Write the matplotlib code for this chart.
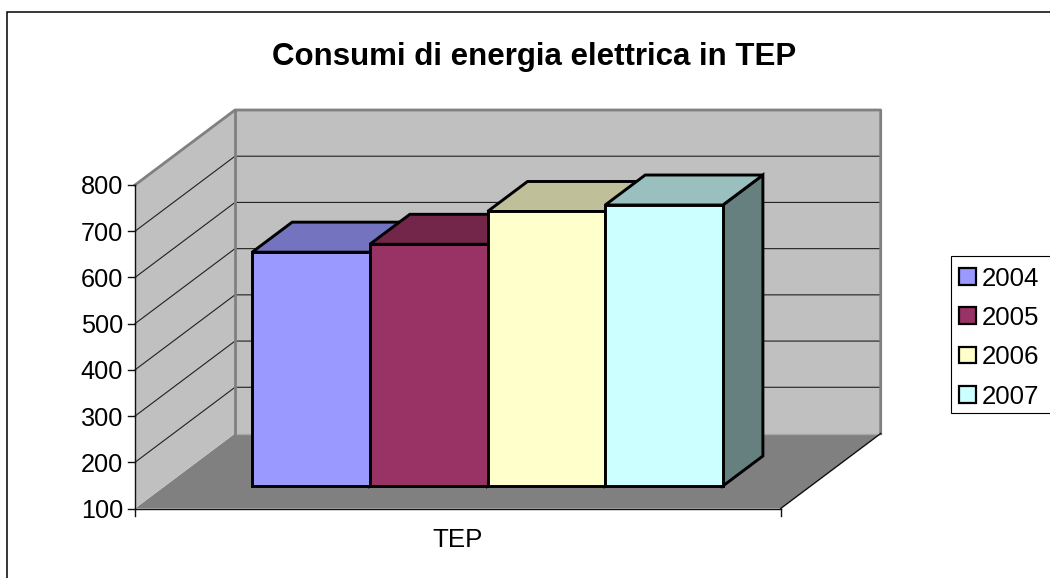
import matplotlib
matplotlib.use("Agg")
import matplotlib.pyplot as plt
from matplotlib.patches import Polygon, Rectangle

plt.rcParams['font.family'] = ['Liberation Sans', 'DejaVu Sans']

title = "Consumi di energia elettrica in TEP"
category = "TEP"
years = ["2004", "2005", "2006", "2007"]
values = [606, 623, 694, 708]
colors = ["#9999FF", "#993366", "#FFFFCC", "#CCFFFF"]
top_colors = ["#7373BF", "#732649", "#BFBF99", "#99BFBF"]
side_colors = ["#4D4D80", "#4D1A33", "#808066", "#668080"]
y_ticks = [100, 200, 300, 400, 500, 600, 700, 800]

# Oblique projection of the 3D chart box onto pixel space
X0, Y0 = 135.0, 508.5        # front-left corner of floor, value 100
BOX_W = 645.7                # floor width
PX_PER_UNIT = (508.5 - 185.0) / 700.0
DEPTH_X, DEPTH_Y = 100.0, -75.0
GAP = 0.1355                 # side gap fraction of the floor width
BAR_D0, BAR_D1 = 0.3, 0.7    # bar depth span


def proj(u, v, d):
    """u: 0..1 along the category axis, v: value, d: 0..1 depth."""
    return (X0 + u * BOX_W + d * DEPTH_X,
            Y0 - (v - y_ticks[0]) * PX_PER_UNIT + d * DEPTH_Y)


fig = plt.figure(figsize=(10.5, 5.78), dpi=100, facecolor="white")
ax = fig.add_axes([0, 0, 1, 1])
ax.set_xlim(0, 1050)
ax.set_ylim(578, 0)
ax.axis("off")

# outer frame (runs past the right and bottom edges of the picture)
ax.add_patch(Rectangle((7, 12), 1100, 620, fc="white", ec="black", lw=1.1, zorder=0))

vmin, vmax = y_ticks[0], y_ticks[-1]
# floor
ax.add_patch(Polygon([proj(0, vmin, 0), proj(1, vmin, 0), proj(1, vmin, 1), proj(0, vmin, 1)],
                     closed=True, fc="#808080", ec="none", zorder=1))
# side and back walls
ax.add_patch(Polygon([proj(0, vmin, 0), proj(0, vmin, 1), proj(0, vmax, 1), proj(0, vmax, 0)],
                     closed=True, fc="#C0C0C0", ec="none", zorder=1))
ax.add_patch(Polygon([proj(0, vmin, 1), proj(1, vmin, 1), proj(1, vmax, 1), proj(0, vmax, 1)],
                     closed=True, fc="#C0C0C0", ec="none", zorder=1))

# gridlines
for t in y_ticks[1:-1]:
    pts = [proj(0, t, 0), proj(0, t, 1), proj(1, t, 1)]
    ax.plot(*zip(*pts), color="#202020", lw=0.8, zorder=2, solid_joinstyle="miter")

# wall borders
wall_edge = dict(color="#808080", lw=2.0, zorder=3, solid_capstyle="projecting")
ax.plot(*zip(proj(0, vmin, 1), proj(0, vmax, 1)), **wall_edge)
ax.plot(*zip(proj(0, vmax, 0), proj(0, vmax, 1), proj(1, vmax, 1), proj(1, vmin, 1)), **wall_edge)
ax.plot(*zip(proj(0, vmin, 1), proj(1, vmin, 1)), color="#A8A8A8", lw=1.0, zorder=2)

# axes lines
axis_style = dict(color="#101010", lw=1.0, zorder=4)
ax.plot(*zip(proj(0, vmin, 0), proj(0, vmax, 0)), **axis_style)
ax.plot(*zip(proj(0, vmin, 0), proj(1, vmin, 0)), **axis_style)
ax.plot(*zip(proj(1, vmin, 0), proj(1, vmin, 1)), **axis_style)
for t in y_ticks:
    x, y = proj(0, t, 0)
    ax.plot([x - 7, x], [y, y], **axis_style)
    ax.text(x - 12, y, str(t), ha="right", va="center_baseline", fontsize=18.2, color="black", zorder=6)
for u in (0, 1):
    x, y = proj(u, vmin, 0)
    ax.plot([x, x], [y, y + 7], **axis_style)
x, y = proj(0.5, vmin, 0)
ax.text(x, y + 29, category, ha="center", va="center_baseline", fontsize=18.6, color="black")

# bars
bar_w = (1 - 2 * GAP) / len(values)
edge = dict(ec="black", lw=2.1, joinstyle="miter", closed=True)
for i, (val, c, tc, sc) in enumerate(zip(values, colors, top_colors, side_colors)):
    u0 = GAP + i * bar_w - 0.0005
    u1 = u0 + bar_w
    z = 10 + i
    ax.add_patch(Polygon([proj(u1, vmin, BAR_D0), proj(u1, vmin, BAR_D1),
                          proj(u1, val, BAR_D1), proj(u1, val, BAR_D0)], fc=sc, zorder=z, **edge))
    ax.add_patch(Polygon([proj(u0, val, BAR_D0), proj(u1, val, BAR_D0),
                          proj(u1, val, BAR_D1), proj(u0, val, BAR_D1)], fc=tc, zorder=z, **edge))
    ax.add_patch(Polygon([proj(u0, vmin, BAR_D0), proj(u1, vmin, BAR_D0),
                          proj(u1, val, BAR_D0), proj(u0, val, BAR_D0)], fc=c, zorder=z, **edge))

# title
ax.text(534.5, 53, title, ha="center", va="center_baseline", fontsize=22.5,
        fontweight="bold", color="black")

# legend (box runs off the right edge as in the source)
ax.add_patch(Rectangle((950.5, 255.7), 120, 157.6, fc="white", ec="black", lw=0.8, zorder=5))
for i, (yr, c) in enumerate(zip(years, colors)):
    yc = 276 + i * 39.4
    ax.add_patch(Rectangle((959, yc - 8), 16.5, 16.5, fc=c, ec="black", lw=1.6, zorder=6))
    ax.text(982, yc, yr, ha="left", va="center_baseline", fontsize=18.6, color="black", zorder=6)

fig.savefig("out.png", dpi=100)
